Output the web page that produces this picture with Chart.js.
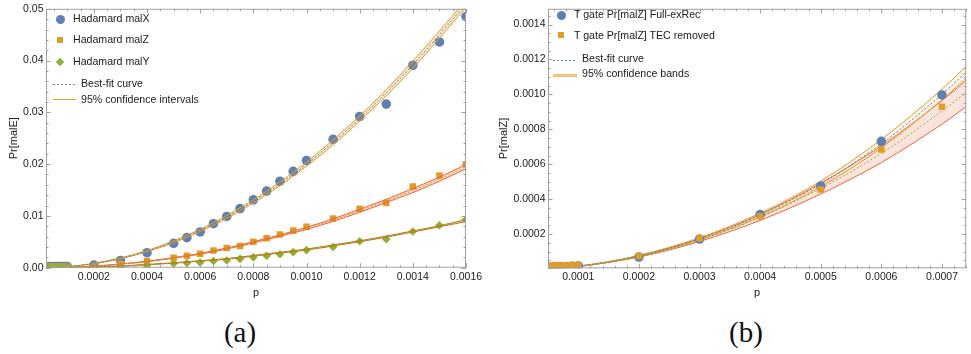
<!DOCTYPE html>
<html>
<head>
<meta charset="utf-8">
<script src="https://cdn.jsdelivr.net/npm/chart.js@4.4.0/dist/chart.umd.min.js"></script>
<style>
body{margin:0;background:#fff;width:971px;height:354px;position:relative;overflow:hidden;font-family:"Liberation Sans",Arial,sans-serif;}
#boxA{position:absolute;left:0;top:0;width:490px;height:300px;}
#boxB{position:absolute;left:490px;top:0;width:481px;height:300px;}
canvas{display:block;}
.lt{position:absolute;font-size:10.6px;line-height:12px;color:#1a1a1a;white-space:nowrap;}
.mk{position:absolute;}
.cap{position:absolute;font-family:"Liberation Serif","Times New Roman",serif;font-size:29px;color:#111;transform:translate(-50%,-50%);}
</style>
</head>
<body>
<div id="boxA"><canvas id="chartA" width="490" height="300"></canvas></div>
<div id="boxB"><canvas id="chartB" width="481" height="300"></canvas></div>

<!-- legend (a) -->
<div class="mk" style="left:55.5px;top:15px;width:9px;height:9px;border-radius:50%;background:#5E81B5"></div>
<div class="lt" style="left:73px;top:12px">Hadamard malX</div>
<div class="mk" style="left:56.75px;top:36.75px;width:6.5px;height:6.5px;background:#E19C24"></div>
<div class="lt" style="left:73px;top:33px">Hadamard malZ</div>
<div class="mk" style="left:57px;top:59px;width:6px;height:6px;background:#8FB131;transform:rotate(45deg)"></div>
<div class="lt" style="left:73px;top:55px">Hadamard malY</div>
<div class="mk" style="left:53px;top:84px;width:23px;height:1px;background:repeating-linear-gradient(to right,#5E81B5 0 2px,transparent 2px 4px)"></div>
<div class="lt" style="left:81px;top:77px">Best-fit curve</div>
<div class="mk" style="left:53px;top:98.5px;width:23px;height:0;border-top:1.5px solid #E6A12A"></div>
<div class="lt" style="left:81px;top:93px">95% confidence intervals</div>

<!-- legend (b) -->
<div class="mk" style="left:556.5px;top:10.5px;width:9px;height:9px;border-radius:50%;background:#5E81B5"></div>
<div class="lt" style="left:574px;top:8px">T gate Pr[malZ] Full-exRec</div>
<div class="mk" style="left:557.75px;top:31.75px;width:6.5px;height:6.5px;background:#E19C24"></div>
<div class="lt" style="left:574px;top:29px">T gate Pr[malZ] TEC removed</div>
<div class="mk" style="left:553px;top:59.5px;width:24px;height:1px;background:repeating-linear-gradient(to right,#5E81B5 0 2px,transparent 2px 4px)"></div>
<div class="lt" style="left:582px;top:52px">Best-fit curve</div>
<div class="mk" style="left:553px;top:74px;width:24px;height:3px;background:#EFC57A"></div>
<div class="lt" style="left:582px;top:67px">95% confidence bands</div>

<div class="cap" style="left:240px;top:332px">(a)</div>
<div class="cap" style="left:746px;top:332px">(b)</div>

<script>
// ---- panel (a): Hadamard gate, measured points ----
const pA = [0.00002, 0.00003, 0.00004, 0.00005, 0.00006, 0.00007, 0.00008, 0.00009, 0.0001, 0.0002, 0.0003, 0.0004,
    0.0005, 0.00055, 0.0006, 0.00065, 0.0007, 0.00075, 0.0008, 0.00085, 0.0009, 0.00095, 0.001, 0.0011, 0.0012,
    0.0013, 0.0014, 0.0015, 0.0016];
const malX = [0.0002, 0.0002, 0.0002, 0.0002, 0.0002, 0.0002, 0.0002, 0.0002, 0.0002, 0.0005, 0.0014, 0.0029,
    0.0047, 0.0058, 0.0069, 0.0085, 0.0099, 0.0114, 0.0131, 0.0148, 0.0167, 0.0186, 0.0207, 0.0248, 0.0292,
    0.0316, 0.0391, 0.0436, 0.0485];
const malZ = [0.0002, 0.0002, 0.0002, 0.0002, 0.0002, 0.0002, 0.0002, 0.0002, 0.0002, 0.0003, 0.0007, 0.0013,
    0.0019, 0.0023, 0.0027, 0.0033, 0.0038, 0.0042, 0.0050, 0.0057, 0.0064, 0.0072, 0.0079, 0.0095, 0.0114,
    0.0125, 0.0157, 0.0178, 0.0200];
const malY = [0.0001, 0.0001, 0.0001, 0.0001, 0.0001, 0.0001, 0.0001, 0.0001, 0.0001, 0.0002, 0.0002, 0.0004,
    0.0008, 0.0009, 0.0010, 0.0013, 0.0014, 0.0017, 0.0020, 0.0023, 0.0026, 0.0030, 0.0034, 0.0040, 0.0051,
    0.0055, 0.0070, 0.0082, 0.0093];

// fitted curves + 95% bands
const fitPA = [0.00002, 0.0001, 0.0002, 0.0003, 0.0004, 0.0005, 0.0006, 0.0007, 0.0008, 0.0009, 0.001, 0.0011, 0.0012,
    0.0013, 0.0014, 0.0015, 0.0016];
const fitX   = [0, 0.0002, 0.0008, 0.0018, 0.0032, 0.0050, 0.0072, 0.0098, 0.0128, 0.0162, 0.0200, 0.0242, 0.0288, 0.0338, 0.0392, 0.0450, 0.0510];
const fitXhi = [0, 0.0002, 0.00085, 0.0019, 0.0033, 0.0052, 0.0074, 0.0101, 0.0131, 0.0166, 0.0204, 0.0247, 0.0293, 0.0344, 0.0399, 0.0457, 0.0517];
const fitXlo = [0, 0.0002, 0.00075, 0.0017, 0.0031, 0.0048, 0.0070, 0.0095, 0.0125, 0.0158, 0.0196, 0.0237, 0.0283, 0.0332, 0.0385, 0.0443, 0.0503];
const fitZ   = [0, 0.0001, 0.0003, 0.0007, 0.0012, 0.0019, 0.0027, 0.0037, 0.0049, 0.0062, 0.0076, 0.0092, 0.0110, 0.0129, 0.0149, 0.0171, 0.0195];
const fitZhi = [0, 0.0001, 0.0003, 0.0007, 0.00125, 0.00195, 0.00278, 0.0038, 0.00502, 0.00635, 0.0078, 0.00945, 0.0113, 0.0132, 0.0153, 0.0175, 0.0199];
const fitZlo = [0, 0.0001, 0.0003, 0.0007, 0.00115, 0.00185, 0.00262, 0.0036, 0.00478, 0.00605, 0.0074, 0.00895, 0.0107, 0.0126, 0.0145, 0.0167, 0.0191];
const fitY   = [0, 0.00004, 0.00014, 0.0003, 0.0006, 0.0009, 0.0013, 0.0017, 0.0023, 0.0029, 0.0035, 0.0043, 0.0051, 0.0060, 0.0070, 0.0080, 0.0091];
const fitYhi = [0, 0.00005, 0.00016, 0.00033, 0.00063, 0.00094, 0.00135, 0.00176, 0.00237, 0.00298, 0.0036, 0.0044, 0.0052, 0.0061, 0.0071, 0.0081, 0.0093];
const fitYlo = [0, 0.00003, 0.00012, 0.00027, 0.00057, 0.00086, 0.00125, 0.00164, 0.00223, 0.00282, 0.0034, 0.0042, 0.0050, 0.0059, 0.0069, 0.0079, 0.0089];

const xTicksA = [0.0002, 0.0004, 0.0006, 0.0008, 0.0010, 0.0012, 0.0014, 0.0016];
const yTicksA = [0, 0.01, 0.02, 0.03, 0.04, 0.05];

// ---- panel (b): T gate ----
const pB = [0.00005, 0.00006, 0.00007, 0.00008, 0.00009, 0.0001, 0.0002, 0.0003, 0.0004, 0.0005, 0.0006, 0.0007];
const fullExRec  = [0.000012, 0.000013, 0.000014, 0.000015, 0.000016, 0.000018, 0.000069, 0.000172, 0.000312, 0.000475, 0.000731, 0.000997];
const tecRemoved = [0.00002, 0.00002, 0.000021, 0.000022, 0.000023, 0.000024, 0.000075, 0.000176, 0.000302, 0.000455, 0.000684, 0.00093];

const fitPB = [0.00005, 0.0001, 0.0002, 0.0003, 0.0004, 0.0005, 0.0006, 0.0007, 0.00075];
const fullFit = [0.000004, 0.000016, 0.000076, 0.000174, 0.00031, 0.000488, 0.000718, 0.001, 0.00116];
const fullHi  = [0.000004, 0.000017, 0.000079, 0.00018, 0.00032, 0.000504, 0.000742, 0.00103, 0.001194];
const fullLo  = [0.000004, 0.000015, 0.000073, 0.000168, 0.0003, 0.000472, 0.000694, 0.00097, 0.001126];
const tecFit  = [0.000004, 0.000016, 0.000072, 0.000166, 0.000296, 0.000462, 0.000662, 0.000905, 0.00104];
const tecHi   = [0.000004, 0.000017, 0.000075, 0.000174, 0.000313, 0.000492, 0.000706, 0.000965, 0.00111];
const tecLo   = [0.000004, 0.000015, 0.000069, 0.000158, 0.000279, 0.00043, 0.00061, 0.00083, 0.000955];

const xTicksB = [0.0001, 0.0002, 0.0003, 0.0004, 0.0005, 0.0006, 0.0007];
const yTicksB = [0.0002, 0.0004, 0.0006, 0.0008, 0.0010, 0.0012, 0.0014];

const blue = '#5E81B5', orange = '#E19C24', green = '#8FB131', red = '#EB6235', brown = '#C56E1A';

function pts(xs, ys){
    return xs.map((x, i) => ({x: x, y: ys[i]}));
}

function markers(label, xs, ys, color, style, r, order){
    return {label: label, data: pts(xs, ys), backgroundColor: color, borderWidth: 0,
        pointStyle: style, pointRadius: r, showLine: false, order: order};
}

function curve(xs, ys, color, dash, order, fillTo, fillColor){
    let ds = {data: pts(xs, ys), borderColor: color, borderWidth: 1, pointRadius: 0, showLine: true,
        cubicInterpolationMode: 'monotone', borderDash: dash || [], order: order, fill: false};
    if(fillTo){ ds.fill = fillTo; ds.backgroundColor = fillColor; }
    return ds;
}

// gray frame with inward major/minor ticks on all four sides (Mathematica style)
const frameTicks = {
    id: 'frameTicks',
    afterDatasetsDraw(chart, args, opts){
        const {ctx, chartArea: a, scales: {x, y}} = chart;
        ctx.save();
        ctx.strokeStyle = '#a0a0a0';
        ctx.lineWidth = 1;
        ctx.strokeRect(a.left + 0.5, a.top + 0.5, a.right - a.left - 1, a.bottom - a.top - 1);
        ctx.beginPath();
        const mark = (scale, step, majors, horiz) => {
            let v = Math.ceil(scale.min / step - 1e-6) * step;
            for(; v <= scale.max + 1e-12; v += step){
                const isMajor = majors.some(m => Math.abs(m - v) < step / 10);
                const len = isMajor ? 4.5 : 2.5;
                const p = Math.round(scale.getPixelForValue(v)) + 0.5;
                if(horiz){
                    ctx.moveTo(p, a.bottom); ctx.lineTo(p, a.bottom - len);
                    ctx.moveTo(p, a.top); ctx.lineTo(p, a.top + len);
                } else {
                    ctx.moveTo(a.left, p); ctx.lineTo(a.left + len, p);
                    ctx.moveTo(a.right, p); ctx.lineTo(a.right - len, p);
                }
            }
        };
        mark(x, opts.xStep, opts.xMajor, true);
        mark(y, opts.yStep, opts.yMajor, false);
        ctx.stroke();
        ctx.restore();
    }
};

function axes(xmin, xmax, ymin, ymax, xTicks, yTicks, xDec, yDec, yWidth, xHeight, xTitle, yTitle){
    const tickFont = {family: '"Liberation Sans", Arial, sans-serif', size: 10.5};
    return {
        x: {type: 'linear', min: xmin, max: xmax,
            grid: {display: false, drawTicks: false}, border: {display: false},
            afterBuildTicks: s => { s.ticks = xTicks.map(v => ({value: v})); },
            afterFit: s => { s.height = xHeight; },
            ticks: {font: tickFont, color: '#222', padding: 3, maxRotation: 0, autoSkip: false,
                callback: v => v.toFixed(xDec)},
            title: {display: true, text: xTitle, color: '#222', padding: {top: 0, bottom: 0},
                font: {family: '"Liberation Sans", Arial, sans-serif', size: 11}}},
        y: {type: 'linear', min: ymin, max: ymax,
            grid: {display: false, drawTicks: false}, border: {display: false},
            afterBuildTicks: s => { s.ticks = yTicks.map(v => ({value: v})); },
            afterFit: s => { s.width = yWidth; },
            ticks: {font: tickFont, color: '#222', padding: 2.5, callback: v => v.toFixed(yDec)},
            title: {display: true, text: yTitle, color: '#222', padding: {top: 7, bottom: 0},
                font: {family: '"Liberation Sans", Arial, sans-serif', size: 11}}}
    };
}

// panel (a)
new Chart(document.getElementById('chartA'), {
    type: 'scatter',
    data: {datasets: [
        markers('Hadamard malX', pA, malX, blue, 'circle', 4.8, 13),
        markers('Hadamard malZ', pA, malZ, orange, 'rect', 4.6, 12),
        markers('Hadamard malY', pA, malY, green, 'rectRot', 4.3, 11),
        curve(fitPA, fitXhi, orange, null, 3, '+1', 'rgba(225,156,36,0.22)'),
        curve(fitPA, fitXlo, orange, null, 3),
        curve(fitPA, fitX, blue, [2, 2], 2),
        curve(fitPA, fitZhi, red, null, 3, '+1', 'rgba(235,98,53,0.22)'),
        curve(fitPA, fitZlo, red, null, 3),
        curve(fitPA, fitZ, orange, [2, 2], 2),
        curve(fitPA, fitYhi, brown, null, 3, '+1', 'rgba(197,110,26,0.22)'),
        curve(fitPA, fitYlo, brown, null, 3),
        curve(fitPA, fitY, green, [2, 2], 2)
    ]},
    options: {
        responsive: false, animation: false, devicePixelRatio: 1,
        layout: {padding: {top: 7.3, right: 24, left: 0, bottom: 0}},
        scales: axes(0.00002, 0.0016, 0, 0.05, xTicksA, yTicksA, 4, 2, 46, 32.3, 'p', 'Pr[malE]'),
        plugins: {legend: {display: false}, tooltip: {enabled: false},
            frameTicks: {xStep: 0.00005, xMajor: xTicksA, yStep: 0.002, yMajor: yTicksA}}
    },
    plugins: [frameTicks]
});

// panel (b)
new Chart(document.getElementById('chartB'), {
    type: 'scatter',
    data: {datasets: [
        markers('T gate Pr[malZ] Full-exRec', pB, fullExRec, blue, 'circle', 4.8, 1),
        markers('T gate Pr[malZ] TEC removed', pB, tecRemoved, orange, 'rect', 4.6, 0),
        curve(fitPB, fullHi, orange, null, 5, '+1', 'rgba(240,200,120,0.18)'),
        curve(fitPB, fullLo, orange, null, 5),
        curve(fitPB, fullFit, blue, [2, 2], 4),
        curve(fitPB, tecHi, red, null, 5, '+1', 'rgba(240,120,90,0.2)'),
        curve(fitPB, tecLo, red, null, 5),
        curve(fitPB, tecFit, green, [2, 2], 4)
    ]},
    options: {
        responsive: false, animation: false, devicePixelRatio: 1,
        layout: {padding: {top: 2, right: 0, left: 0, bottom: 0}},
        scales: axes(0.00005, 0.00074, 0.0000046, 0.00149, xTicksB, yTicksB, 4, 4, 58, 31.7, 'p', 'Pr[malZ]'),
        plugins: {legend: {display: false}, tooltip: {enabled: false},
            frameTicks: {xStep: 0.00002, xMajor: xTicksB, yStep: 0.00005, yMajor: yTicksB}}
    },
    plugins: [frameTicks]
});
</script>
</body>
</html>
